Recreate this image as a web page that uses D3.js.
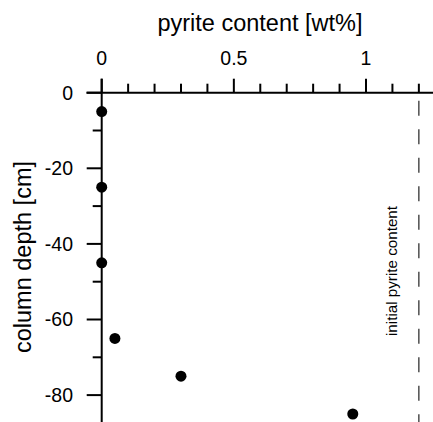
<!DOCTYPE html>
<html><head><meta charset="utf-8">
<script src="https://cdn.jsdelivr.net/npm/d3@7"></script>
<style>
html,body{margin:0;padding:0;background:#fff;}
svg{display:block;font-family:"Liberation Sans",Arial,sans-serif;}
</style></head>
<body>
<svg id="chart" width="433" height="422"></svg>
<script>
const depth = [-5, -25, -45, -65, -75, -85];
const pyrite = [0, 0, 0, 0.05, 0.3, 0.95];
const initialPyrite = 1.2;
const xTickLabels = [0, 0.5, 1];
const yTickLabels = [0, -20, -40, -60, -80];
const xTitle = "pyrite content [wt%]";
const yTitle = "column depth [cm]";
const annotation = "initial pyrite content";

const svg = d3.select("#chart");
const x = d3.scaleLinear().domain([0, 1]).range([101.7, 366]);
const y = d3.scaleLinear().domain([0, -80]).range([92.7, 395.1]);

// x axis (top)
const xAxis = svg.append("g");
xAxis.append("line").attr("x1", 86.5).attr("x2", 433).attr("y1", y(0)).attr("y2", y(0))
  .attr("stroke", "#000").attr("stroke-width", 2);
const xMinor = d3.range(0, 13).map(i => i / 10);
xAxis.selectAll("line.t").data(xMinor).join("line").attr("class", "t")
  .attr("x1", d => x(d)).attr("x2", d => x(d))
  .attr("y1", y(0))
  .attr("y2", d => xTickLabels.some(v => Math.abs(v - d) < 1e-9) ? y(0) - 14 : y(0) - 9)
  .attr("stroke", "#000").attr("stroke-width", 2);
xAxis.selectAll("text").data(xTickLabels).join("text")
  .attr("x", d => x(d)).attr("y", 65).attr("text-anchor", "middle")
  .attr("font-size", 19.5).text(d => d3.format("")(d));

// y axis (left)
const yAxis = svg.append("g");
yAxis.append("line").attr("x1", x(0)).attr("x2", x(0)).attr("y1", y(0) - 14).attr("y2", 422)
  .attr("stroke", "#000").attr("stroke-width", 2);
const yMinor = d3.range(0, 9).map(i => -i * 10);
yAxis.selectAll("line.t").data(yMinor).join("line").attr("class", "t")
  .attr("y1", d => y(d)).attr("y2", d => y(d))
  .attr("x1", x(0))
  .attr("x2", d => yTickLabels.includes(d) ? x(0) - 15 : x(0) - 9)
  .attr("stroke", "#000").attr("stroke-width", 2);
yAxis.selectAll("text").data(yTickLabels).join("text")
  .attr("x", 73).attr("y", d => y(d)).attr("dy", "0.35em").attr("text-anchor", "end")
  .attr("font-size", 19.5).text(d => d === 0 ? "0" : "-" + Math.abs(d));

// titles
svg.append("text").attr("x", 260).attr("y", 31).attr("text-anchor", "middle")
  .attr("font-size", 23.5).text(xTitle);
svg.append("text").attr("transform", "translate(31,257) rotate(-90)")
  .attr("text-anchor", "middle").attr("font-size", 23.5).text(yTitle);

// initial pyrite line
svg.append("line").attr("x1", x(initialPyrite)).attr("x2", x(initialPyrite))
  .attr("y1", y(0) + 8).attr("y2", 422)
  .attr("stroke", "#333").attr("stroke-width", 1.3).attr("stroke-dasharray", "15,13.5");
svg.append("text").attr("transform", `translate(${x(initialPyrite) - 22},271) rotate(-90)`)
  .attr("text-anchor", "middle").attr("font-size", 15.2).text(annotation);

// points
svg.selectAll("circle").data(depth).join("circle")
  .attr("cx", (d, i) => x(pyrite[i])).attr("cy", d => y(d)).attr("r", 5.5).attr("fill", "#000");
</script>
</body></html>
